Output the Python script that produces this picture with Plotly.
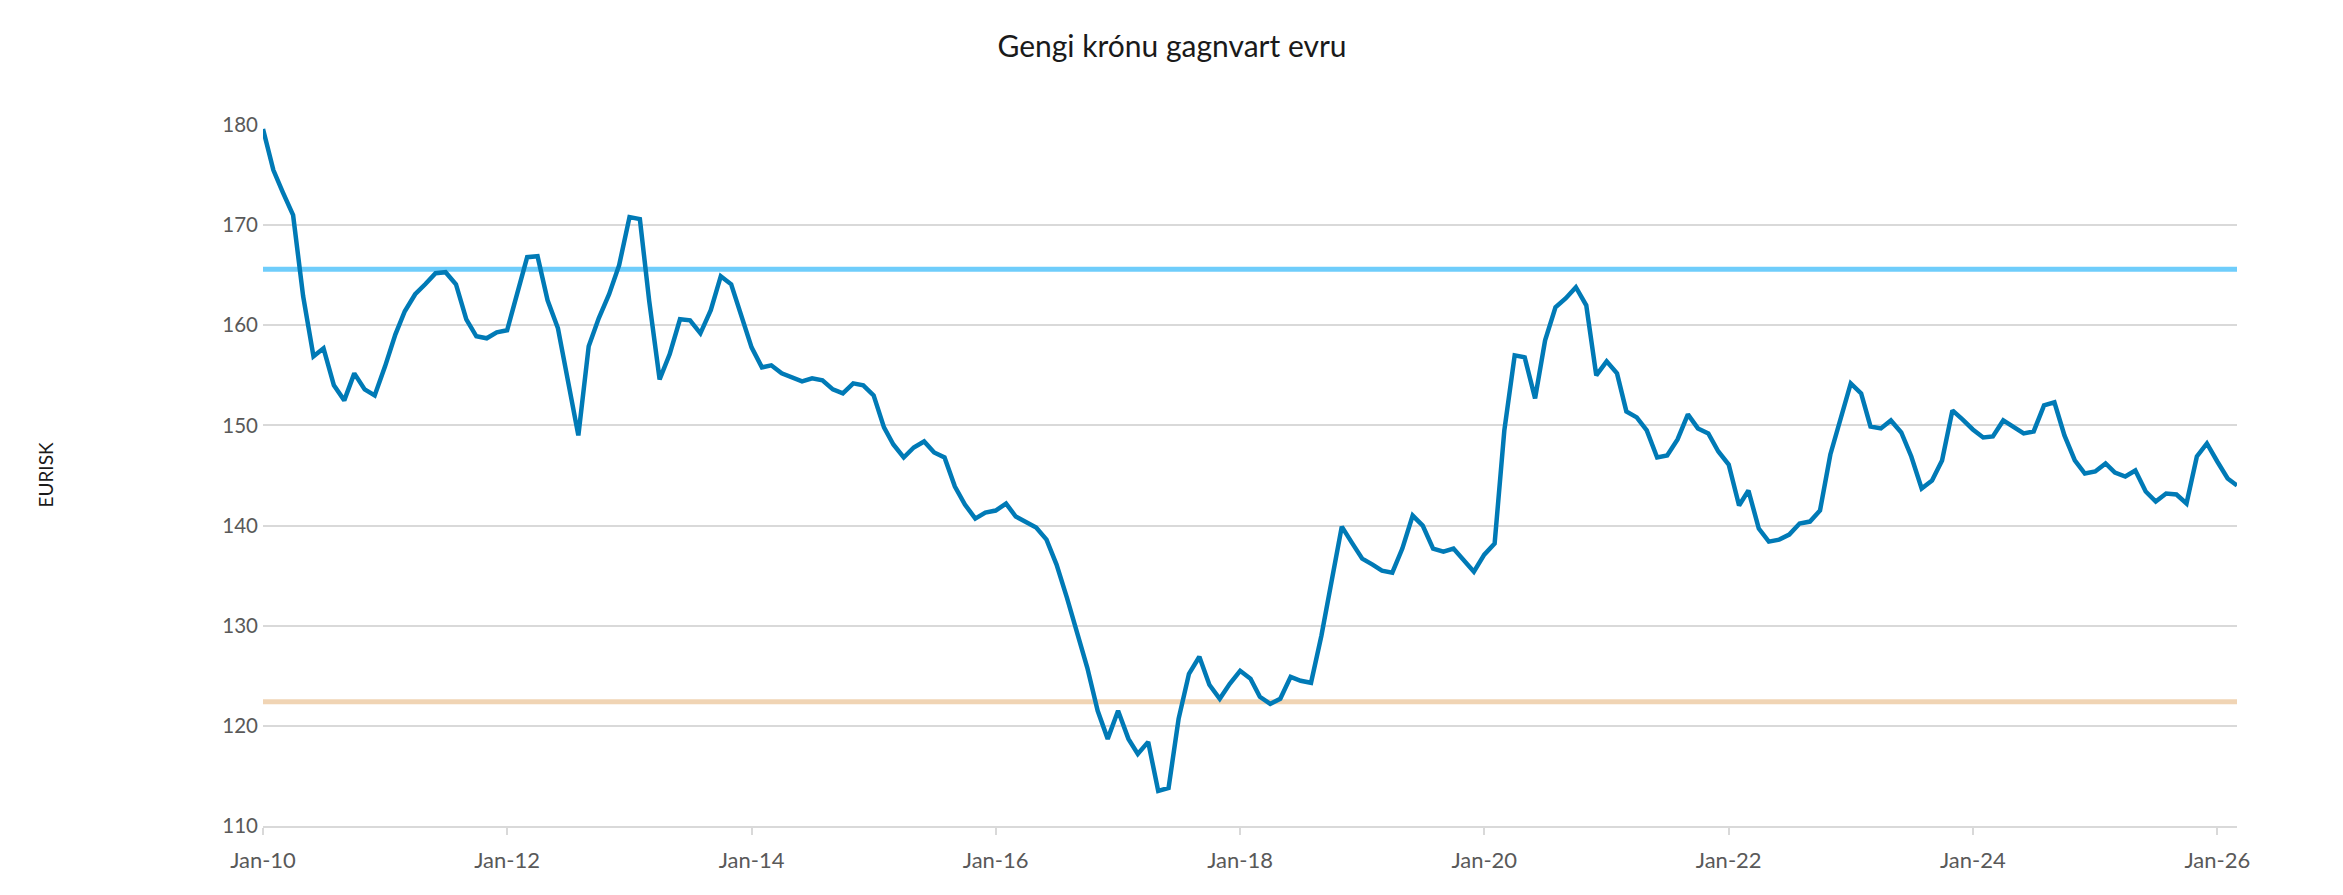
import pandas as pd
import plotly.graph_objects as go

# Monthly EUR/ISK, Jan 2010 - Mar 2026
start_month = "2010-01-01"
eurisk = [
    179.6, 175.5, 173.3, 171.0, 162.9, 156.9, 157.7, 154.0, 152.5, 155.2,
    153.6, 153.0, 155.9, 159.1, 161.4, 163.1, 164.1, 165.2, 165.3, 164.1,
    160.6, 158.9, 158.7, 159.3, 159.5, 163.2, 166.8, 166.9, 162.5, 159.7,
    154.7, 149.0, 157.9, 160.7, 163.1, 166.0, 170.8, 170.6, 162.4, 154.6,
    157.1, 160.6, 160.5, 159.2, 161.5, 164.9, 164.1, 160.9, 157.8, 155.8,
    156.0, 155.2, 154.8, 154.4, 154.7, 154.5, 153.6, 153.2, 154.2, 154.0,
    153.0, 149.8, 148.1, 146.8, 147.8, 148.4, 147.3, 146.8, 143.9, 142.1,
    140.7, 141.3, 141.5, 142.2, 140.9, 140.3, 139.8, 138.6,
    136.1, 132.8, 129.3, 125.8, 121.5, 118.7, 121.5, 118.7, 117.2, 118.4,
    113.5, 113.8, 120.7, 125.2, 126.9, 124.1, 122.7, 124.2, 125.5, 124.7,
    122.9, 122.2, 122.7, 124.9, 124.5, 124.3, 129.0, 134.3, 139.9, 138.3,
    136.7, 136.1, 135.5, 135.3, 137.7, 141.0, 140.0, 137.7, 137.4, 137.7,
    136.5, 135.4, 137.1, 138.2, 149.5, 157.0, 156.8, 152.7, 158.5, 161.8,
    162.7, 163.8, 162.0, 155.0, 156.4, 155.2, 151.4, 150.8, 149.5, 146.8,
    147.0, 148.6, 151.1, 149.7, 149.2, 147.4, 146.1, 142.0, 143.5, 139.7,
    138.4, 138.6, 139.1, 140.2, 140.4, 141.5, 147.1, 150.7,
    154.2, 153.2, 149.9, 149.7, 150.5, 149.3, 146.9, 143.7, 144.5, 146.5,
    151.5, 150.6, 149.6, 148.8, 148.9, 150.5, 149.9, 149.2, 149.4, 152.0,
    152.3, 149.0, 146.5, 145.2, 145.4, 146.2, 145.3, 144.9, 145.5, 143.4,
    142.4, 143.2, 143.1, 142.2, 146.9, 148.2, 146.4, 144.7, 144.0,
]
upper_level = 165.6
lower_level = 122.4

tick_dates = ["2010-01-01", "2012-01-01", "2014-01-01", "2016-01-01", "2018-01-01",
              "2020-01-01", "2022-01-01", "2024-01-01", "2026-01-01"]
tick_labels = ["Jan-10", "Jan-12", "Jan-14", "Jan-16", "Jan-18",
               "Jan-20", "Jan-22", "Jan-24", "Jan-26"]
y_ticks = [110, 120, 130, 140, 150, 160, 170, 180]

dates = pd.date_range(start_month, periods=len(eurisk), freq="MS")

FONT = "Lato"
L, R, T, B = 255, 114, 117, 77
plot_w = 2343 - L - R

fig = go.Figure()
fig.add_trace(go.Scatter(x=[dates[0], dates[-1]], y=[upper_level, upper_level], mode="lines",
                         line=dict(color="#6FCDFB", width=5), hoverinfo="skip", showlegend=False))
fig.add_trace(go.Scatter(x=[dates[0], dates[-1]], y=[lower_level, lower_level], mode="lines",
                         line=dict(color="#F0D4B4", width=5), hoverinfo="skip", showlegend=False))
fig.add_trace(go.Scatter(x=dates, y=eurisk, mode="lines", name="EURISK",
                         line=dict(color="#007AB6", width=4.5), showlegend=False))

fig.update_layout(
    width=2343, height=895,
    margin=dict(l=L, r=R, t=T, b=B),
    paper_bgcolor="white", plot_bgcolor="white",
    font=dict(family=FONT, color="#595959", size=20),
    title=dict(text="Gengi krónu gagnvart evru", x=1164 / 2343, xanchor="center",
               y=1 - 38 / 895, yanchor="middle", yref="container",
               font=dict(family=FONT, size=30, color="#1a1a1a")),
    xaxis=dict(type="date", range=[dates[0], dates[-1]],
               tickmode="array", tickvals=tick_dates, ticktext=tick_labels,
               ticks="outside", ticklen=7, tickcolor="#D9D9D9", tickwidth=1.5,
               ticklabelstandoff=7,
               showline=True, linecolor="#D9D9D9", linewidth=1.5,
               showgrid=False, zeroline=False,
               tickfont=dict(family=FONT, size=22, color="#595959")),
    yaxis=dict(range=[110, 180], tickmode="array", tickvals=y_ticks,
               showgrid=True, gridcolor="#D9D9D9", gridwidth=1.5,
               zeroline=False, showline=False, ticks="",
               ticklabelstandoff=4,
               tickfont=dict(family=FONT, size=20.5, color="#595959")),
    annotations=[dict(text="EURISK", xref="paper", yref="paper",
                      x=(37 - L) / plot_w, y=0.5, textangle=-90, showarrow=False,
                      xanchor="center", yanchor="middle",
                      font=dict(family=FONT, size=19, color="#1a1a1a"))],
    shapes=[dict(type="rect", xref="paper", yref="paper",
                 x0=(2328 - L) / plot_w, x1=(2400 - L) / plot_w, y0=-0.2, y1=1.3,
                 fillcolor="#F5F7FA", line=dict(color="#E3E6EA", width=1.5), layer="below")],
)

fig.write_html("out.html")
